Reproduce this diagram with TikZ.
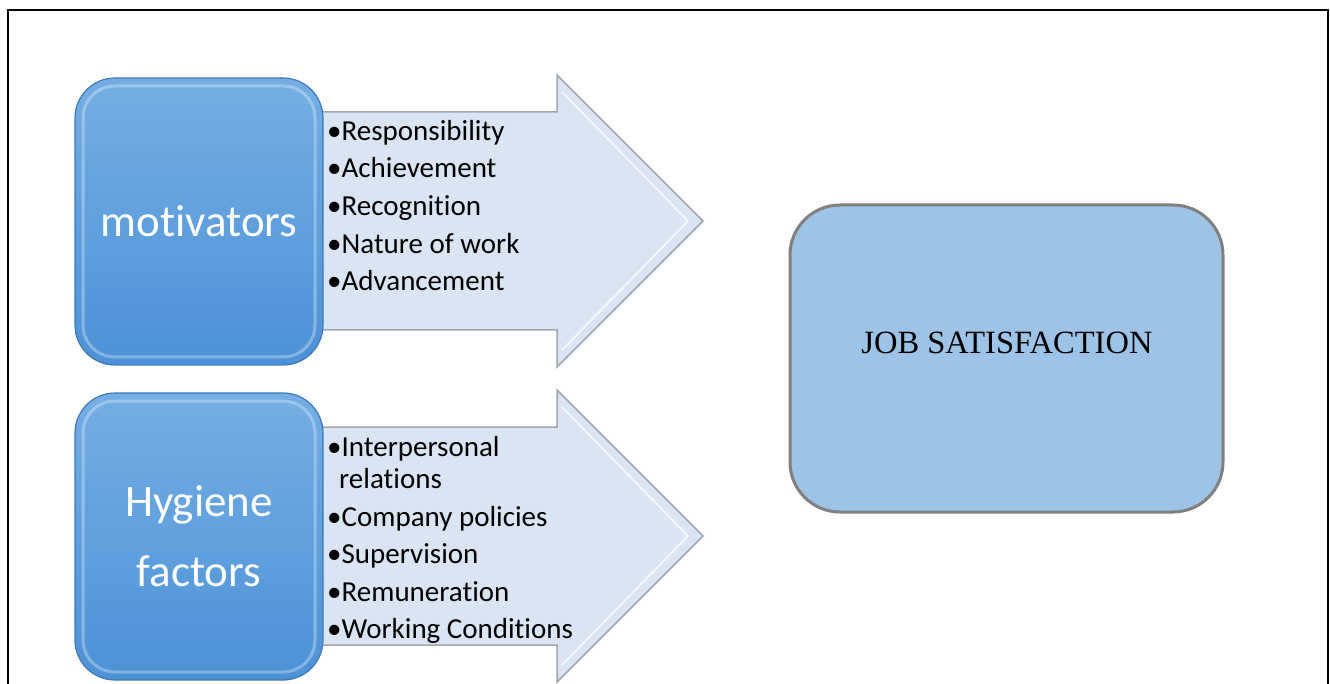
\documentclass[tikz,border=0pt]{standalone}
\usepackage{fontspec}
\setmainfont{Carlito}[Ligatures=NoCommon]
\newfontfamily\serifjob{Liberation Serif}
\usepackage{tikz}
\usetikzlibrary{positioning}

\definecolor{factortop}{HTML}{75AEE4}
\definecolor{factorbot}{HTML}{4C92D6}
\definecolor{factoredge}{HTML}{3F79B5}
\definecolor{arrowfill}{HTML}{DAE4F2}
\definecolor{arrowedge}{HTML}{9EA6AE}
\definecolor{jobfill}{HTML}{9DC3E6}
\definecolor{jobedge}{HTML}{808080}

\tikzset{
	factor/.style={draw=factoredge, line width=1.2pt, rounded corners=40pt, top color=factortop, bottom color=factorbot, minimum width=248pt, minimum height=287pt, inner sep=0pt, text=white, align=center, font=\fontsize{45}{70}\selectfont},
	rim/.style={draw=white, draw opacity=0.3, line width=3pt, rounded corners=32pt, minimum width=232pt, minimum height=271pt},
	bigarrow/.style={fill=arrowfill, draw=arrowedge, line width=1.5pt, line join=miter},
	bevel/.style={draw=white, draw opacity=0.7, line width=2pt},
	items/.style={align=left, inner sep=0pt, anchor=north west, font=\fontsize{29}{37.6}\selectfont},
	goal/.style={draw=jobedge, line width=3pt, fill=jobfill, rounded corners=50pt, minimum width=433pt, minimum height=307pt}
}

\begin{document}
\begin{tikzpicture}[x=1pt,y=-1pt]
\useasboundingbox (0,0) rectangle (1330,684);
\draw[line width=2.6pt] (8,684) -- (8,10) -- (1328,10) -- (1328,684);

\draw[bigarrow] (300,112) -- (557,112) -- (557,75) -- (703,221) -- (557,367) -- (557,330) -- (300,330) -- cycle;
\draw[bevel] (562,92) -- (688,221) -- (562,350);
\draw[bigarrow] (300,427) -- (557,427) -- (557,390) -- (703,536) -- (557,682) -- (557,645) -- (300,645) -- cycle;
\draw[bevel] (562,407) -- (688,536) -- (562,665);

\node[factor] (motiv) at (199,221.5) {motivators};
\node[rim] (motivrim) at (motiv.center) {};
\node[factor] (hyg) at (199,536.5) {Hygiene\\factors};
\node[rim] (hygrim) at (hyg.center) {};

\node[items] (motivlist) at (327,120) {\textbullet Responsibility\\\textbullet Achievement\\\textbullet Recognition\\\textbullet Nature of work\\\textbullet Advancement};
\node[items] (hyglist) at (327,436) {\textbullet Interpersonal\\[-5.5pt]\hspace*{12pt}relations\\\textbullet Company policies\\\textbullet Supervision\\\textbullet Remuneration\\\textbullet Working Conditions};

\node[goal] (job) at (1006.5,358.5) {};
\node[font=\serifjob\fontsize{32.5}{38}\selectfont] (jobtext) at (1007,343) {JOB SATISFACTION};
\end{tikzpicture}
\end{document}
